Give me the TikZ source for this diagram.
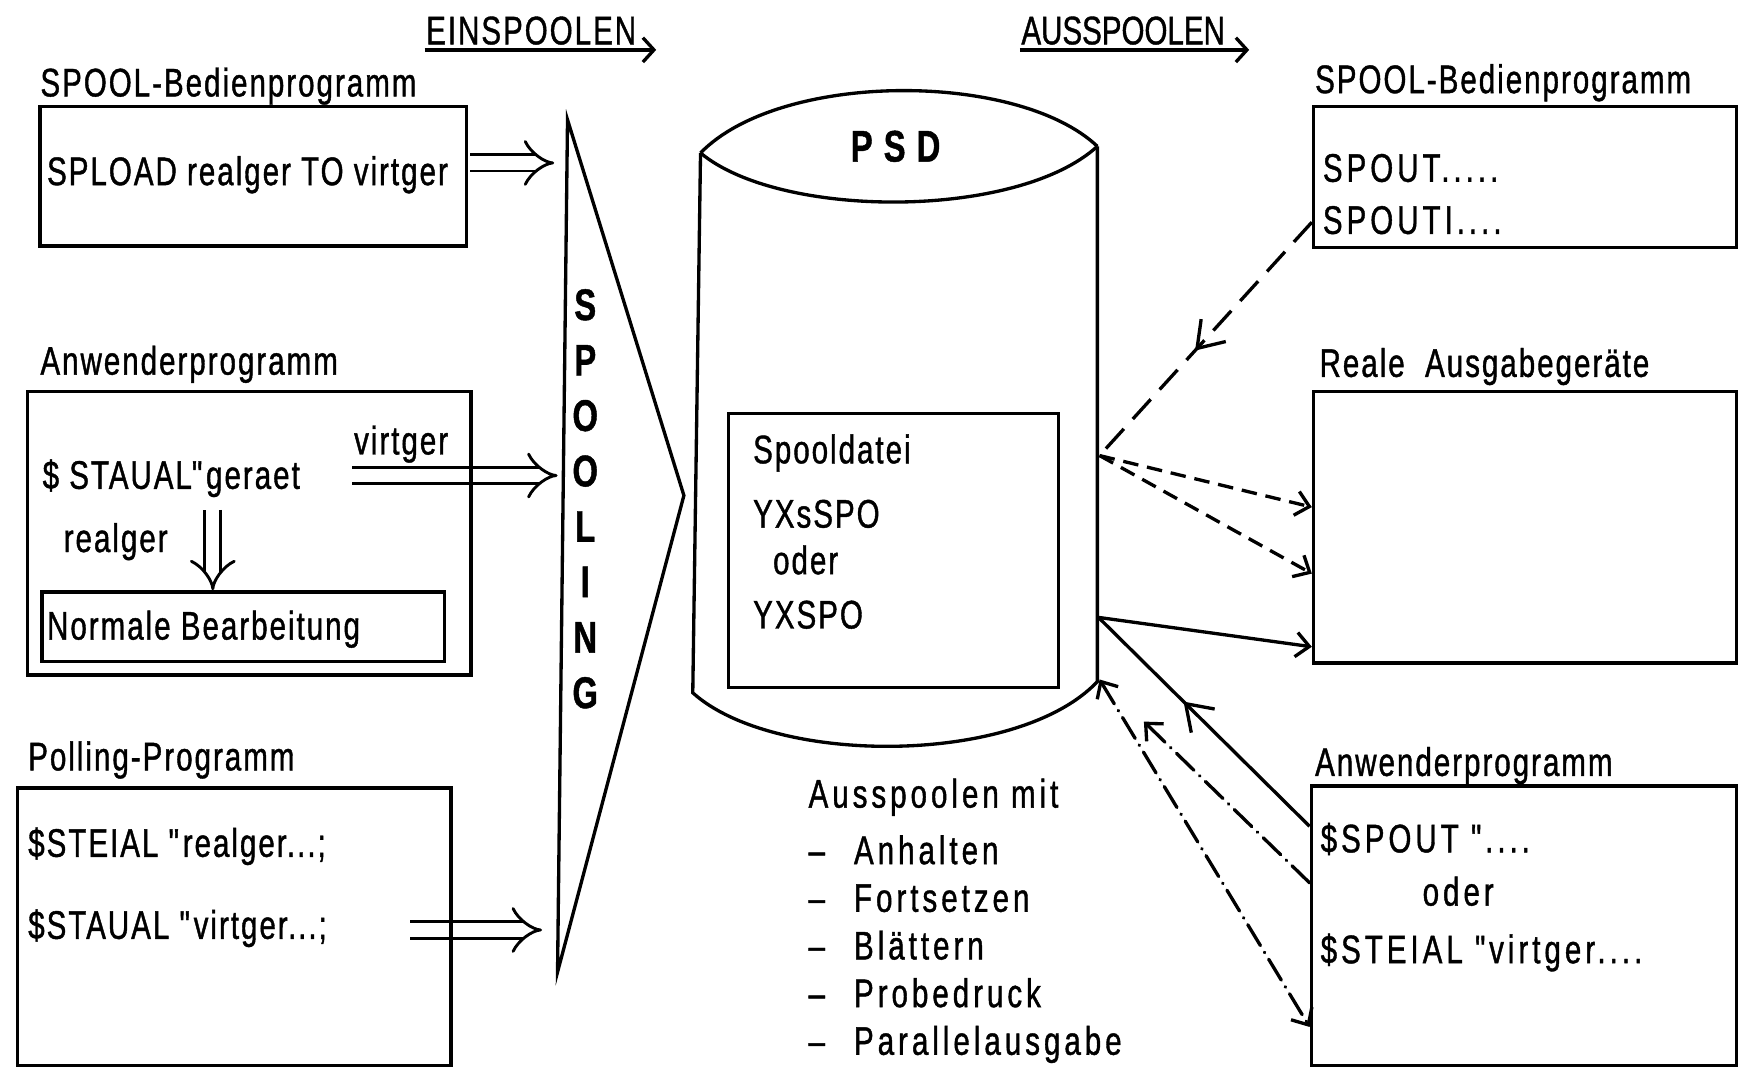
\documentclass[tikz,border=0pt]{standalone}
\usepackage{fontspec}
\setmainfont{Liberation Sans}[FakeStretch=0.74,LetterSpace=5,FakeBold=1]
\usetikzlibrary{arrows.meta,fit,decorations.markings}
\begin{document}
\begin{tikzpicture}[x=0.5pt,y=-0.5pt,line width=1.5pt,
  every node/.style={inner sep=0pt,font=\fontsize{18}{21.5}\selectfont},
  txt/.style={anchor=base west},
  wide/.style={font=\fontsize{18}{21.5}\selectfont\addfontfeature{LetterSpace=10}},
  box/.style={draw,line width=1.5pt},
  dbl/.style={double,double distance=6pt,line width=1.3pt,-{Implies[length=18pt,width=19pt]}},
  arr/.style={-{Straight Barb[length=6pt,width=11pt]}},
  darr/.style={{Straight Barb[length=6pt,width=11pt]}-{Straight Barb[length=6pt,width=11pt]}},
  midarr/.style={postaction={decorate,decoration={markings,mark=at position #1 with {\arrow{Straight Barb[length=11pt,width=15pt]}}}}},
  ldash/.style={dash pattern=on 12pt off 6pt},
  sdash/.style={dash pattern=on 7pt off 4pt},
  ddot/.style={line cap=round,dash pattern=on 11pt off 3.5pt on 0.2pt off 3.5pt}]
\useasboundingbox (0,0) rectangle (1568,964);
\node[txt] (ein) at (383,40) {EINSPOOLEN};
\coordinate (einend) at (592,45);
\draw[-{Straight Barb[length=5pt,width=11pt]}] ([yshift=-2.5pt]ein.base west) -- (einend);
\node[txt,font=\fontsize{18}{21.5}\selectfont\addfontfeature{LetterSpace=0}] (aus) at (920,40) {AUSSPOOLEN};
\coordinate (ausend) at (1127,45);
\draw[-{Straight Barb[length=5pt,width=11pt]}] ([yshift=-2.5pt]aus.base west) -- (ausend);
\coordinate (st) at (512,108);
\coordinate (sm) at (617,447);
\coordinate (sb) at (503,877);
\draw (st) -- (sm) -- (sb) -- cycle;
\node[font=\fontsize{20}{25}\selectfont\bfseries,align=center] (spooling) at (528,450) {S\\P\\O\\O\\L\\I\\N\\G};
\node[txt] (lsplbl) at (35,87) {SPOOL-Bedienprogramm};
\node[box,fit={(36,96) (421,222)}] (lsp) {};
\node[txt] (spload) at (41,167) {SPLOAD realger TO virtger};
\coordinate (t1) at (500,147);
\draw[dbl] ([shift={(0.8pt,6pt)}]lsp.east) -- (t1);
\node[txt] (lanwlbl) at (35,338) {Anwenderprogramm};
\coordinate (va) at (318,429);
\coordinate (t2) at (503,429);
\draw[dbl] (va) -- (t2);
\node[box,fit={(25,353) (425,609)}] (lanw) {};
\node[txt] (virt) at (318,410) {virtger};
\node[txt] (staual) at (37,441) {\$ STAUAL\textquotedbl geraet};
\node[txt] (realger) at (56,498) {realger};
\node[box,fit={(38,534) (401,597)}] (nb) {};
\node[txt] (normal) at (41,577) {Normale Bearbeitung};
\coordinate (rd) at (192,460);
\draw[dbl] (rd) -- (rd |- nb.north);
\node[txt] (polllbl) at (24,695) {Polling-Programm};
\coordinate (vb) at (370,839);
\coordinate (t3) at (489,839);
\draw[dbl] (vb) -- (t3);
\node[box,fit={(16,711) (407,961)}] (poll) {};
\node[txt] (steial) at (24,773) {\$STEIAL \textquotedbl realger...;};
\node[txt] (staual2) at (24,847) {\$STAUAL \textquotedbl virtger...;};
\draw (632,138) .. controls (704,64) and (918,64) .. (990,132);
\draw (632,138) .. controls (704,198) and (918,198) .. (990,132);
\draw (632,138) -- (625,625) .. controls (698,691) and (918,691) .. (990,615) -- (990,132);
\node[font=\fontsize{20}{24}\selectfont\bfseries\addfontfeature{LetterSpace=25}] (psd) at (808,132) {PSD};
\node[box,fit={(657,373) (955,620)}] (sd) {};
\node[txt] (sdt) at (678,418) {Spooldatei};
\node[txt] (yxs) at (678,476) {YXsSPO};
\node[txt] (oder1) at (696,518) {oder};
\node[txt] (yx) at (678,567) {YXSPO};
\node[wide,anchor=north west,align=left] (auslist) at (728,701) {Ausspoolen mit\\[4pt]
  \makebox[20.5pt][l]{--}Anhalten\\
  \makebox[20.5pt][l]{--}Fortsetzen\\
  \makebox[20.5pt][l]{--}Blättern\\
  \makebox[20.5pt][l]{--}Probedruck\\
  \makebox[20.5pt][l]{--}Parallelausgabe};
\node[txt] (rsplbl) at (1185,84) {SPOOL-Bedienprogramm};
\node[box,fit={(1185,96) (1567,223)}] (rsp) {};
\node[txt,wide] (spout) at (1192,164) {SPOUT.....};
\node[txt,wide] (spouti) at (1192,211) {SPOUTI....};
\node[txt] (reallbl) at (1189,340) {Reale\ \ Ausgabegeräte};
\node[box,fit={(1185,353) (1567,598)}] (rag) {};
\node[txt] (ranwlbl) at (1185,700) {Anwenderprogramm};
\node[box,fit={(1183,709) (1567,961)}] (ranw) {};
\node[txt,wide] (spout2) at (1190,769) {\$SPOUT \textquotedbl....};
\node[txt,wide] (oder2) at (1282,817) {oder};
\node[txt,wide] (steial2) at (1190,869) {\$STEIAL \textquotedbl virtger....};
\coordinate (pa) at (992,411);
\coordinate (pc) at (991,557);
\coordinate (pd) at (992,613);
\coordinate (pr) at (1032,651);
\draw[ldash,midarr=0.55] ([yshift=12pt]rsp.south west) -- (pa);
\draw[sdash,arr] (pa) -- ([yshift=-53pt]rag.north west);
\draw[sdash,arr] (pa) -- ([yshift=-83pt]rag.north west);
\draw[arr] (pc) -- ([yshift=-116pt]rag.north west);
\draw[midarr=0.6] ([yshift=-19pt]ranw.north west) -- (pc);
\draw[ddot,arr] ([yshift=-44.5pt]ranw.north west) -- (pr);
\draw[ddot,darr] (pd) -- ([yshift=-109.5pt]ranw.north west);
\end{tikzpicture}
\end{document}
